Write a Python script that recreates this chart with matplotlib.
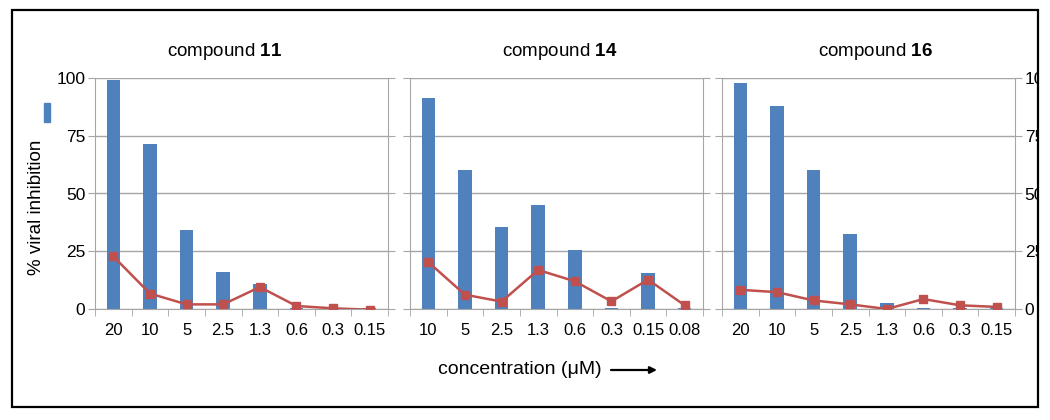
import matplotlib
matplotlib.use("Agg")
import matplotlib.pyplot as plt
from matplotlib.patches import Rectangle
import numpy as np

plt.rcParams['font.family'] = ['Liberation Sans', 'DejaVu Sans']
plt.rcParams['mathtext.fontset'] = 'custom'
plt.rcParams['mathtext.rm'] = 'Liberation Sans'
plt.rcParams['mathtext.bf'] = 'Liberation Sans:bold'

# data
names = ["11", "14", "16"]
conc_11 = ["20", "10", "5", "2.5", "1.3", "0.6", "0.3", "0.15"]
conc_14 = ["10", "5", "2.5", "1.3", "0.6", "0.3", "0.15", "0.08"]
conc_16 = ["20", "10", "5", "2.5", "1.3", "0.6", "0.3", "0.15"]
inhib_11 = [99, 71.5, 34, 16, 10.7, 0.4, 0.2, 0.4]
inhib_14 = [91.3, 60, 35.5, 45, 25.5, 0.4, 15.8, 0.4]
inhib_16 = [97.8, 87.8, 60, 32.5, 2.5, 0.4, 0.3, 0.3]
line_11 = [22.8, 6.7, 2.0, 2.0, 9.5, 1.3, 0.3, -0.3]
line_14 = [20.3, 6.2, 3.2, 16.9, 12.0, 3.3, 12.7, 1.6]
line_16 = [8.3, 7.3, 3.7, 2.0, 0.0, 4.3, 1.6, 0.9]

conc = [conc_11, conc_14, conc_16]
inhib = [inhib_11, inhib_14, inhib_16]
lines = [line_11, line_14, line_16]

blue = '#4F81BD'
red = '#C0504D'
grey = '#A6A6A6'

W, H = 1050, 420
fig = plt.figure(figsize=(W / 100, H / 100), dpi=100)

lefts = [95, 410, 722]
title_x = [225, 560, 875]
for i in range(3):
    ax = fig.add_axes([lefts[i] / W, 1 - 309 / H, 293 / W, 231 / H])
    x = np.arange(len(conc[i]))
    ax.bar(x, inhib[i], width=0.37, color=blue, zorder=2)
    ax.plot(x, lines[i], color=red, lw=1.8, marker='s', ms=5.2, zorder=3)
    ax.set_xlim(-0.5, 7.5)
    ax.set_ylim(0, 100)
    ax.set_yticks([0, 25, 50, 75, 100])
    ax.yaxis.grid(True, color=grey, lw=1, zorder=0)
    ax.set_axisbelow(True)
    ax.set_xticks(x)
    ax.set_xticklabels(conc[i], fontsize=12)
    ax.set_xticks(np.arange(-0.5, 8, 1), minor=True)
    ax.tick_params(axis='x', which='major', length=0, pad=10)
    ax.tick_params(axis='x', which='minor', length=5, color=grey)
    ax.tick_params(axis='y', length=5, color=grey, labelsize=12.5, pad=2,
                   left=True, right=True,
                   labelleft=(i == 0), labelright=(i == 2))
    ax.spines['top'].set_visible(False)
    for s in ['left', 'right', 'bottom']:
        ax.spines[s].set_color(grey)
    if i == 0:
        ax.set_ylabel('% viral inhibition', fontsize=13.5)
        ax.yaxis.set_label_coords(-0.17, 0.44)
    fig.text(title_x[i] / W, 1 - 52 / H, r'compound $\mathbf{' + names[i] + '}$',
             fontsize=13.5, ha='center', va='center')

# x axis caption with arrow
fig.text(438 / W, 1 - 370 / H, 'concentration (\u03bcM)', fontsize=14, va='center')
ax.annotate('', xy=(657 / W, 1 - 370 / H), xytext=(611 / W, 1 - 370 / H),
            xycoords='figure fraction', annotation_clip=False,
            arrowprops=dict(arrowstyle='-|>', color='black', lw=1.6,
                            mutation_scale=10, shrinkA=0, shrinkB=0))

# leftover legend key
fig.patches.append(Rectangle((44 / W, 1 - 122 / H), 6 / W, 19 / H,
                             transform=fig.transFigure, color=blue, zorder=5))
# white margin clipping the right labels (as in the source), then the frame
fig.patches.append(Rectangle((1038 / W, 0), 12 / W, 1, transform=fig.transFigure,
                             color='white', zorder=5))
fig.patches.append(Rectangle((12 / W, 1 - 407 / H), 1026 / W, 397 / H,
                             transform=fig.transFigure, fill=False,
                             edgecolor='black', lw=1.6, zorder=6))

fig.savefig('out.png', dpi=100)
